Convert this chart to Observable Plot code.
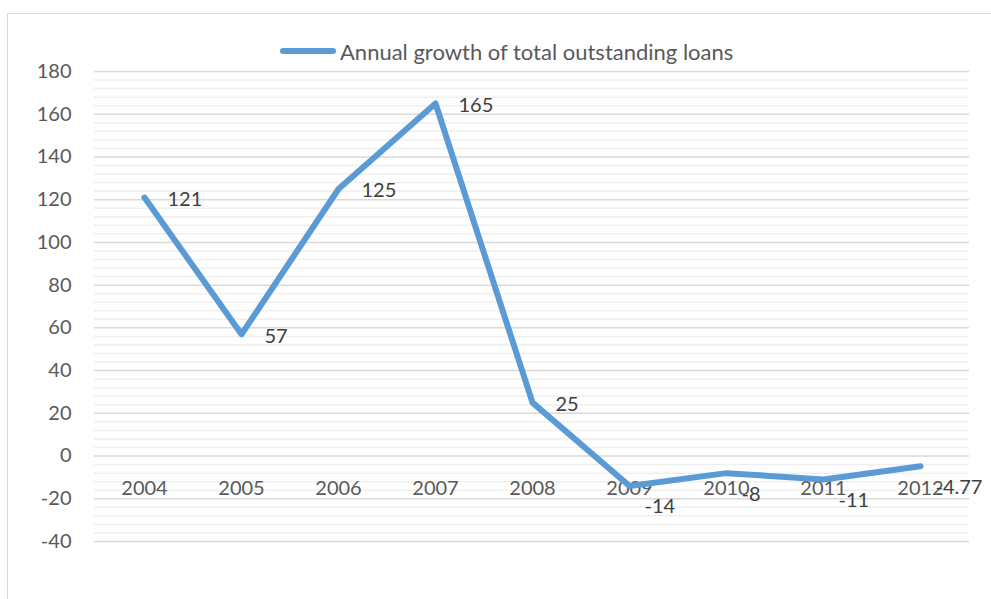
<!DOCTYPE html>
<html>
<head>
<meta charset="utf-8">
<script src="https://cdn.jsdelivr.net/npm/d3@7"></script>
<script src="https://cdn.jsdelivr.net/npm/@observablehq/plot@0.6"></script>
<style>
  html, body { margin: 0; padding: 0; background: #fff; overflow: hidden; width: 991px; height: 599px; }
  #wrap { position: relative; width: 991px; height: 599px; }
  #frame { position: absolute; left: 7px; top: 13px; width: 1000px; height: 700px; border: 1px solid #d9d9d9; box-sizing: border-box; }
  #chart { position: absolute; left: 0; top: 0; }
  #legend { position: absolute; left: 280px; top: 36px; height: 30px; display: flex; align-items: center; font-family: Lato, sans-serif; font-size: 22px; color: #595959; }
  #legend .swatch { width: 56px; height: 6px; border-radius: 3px; background: #5B9BD5; margin-right: 4px; }
</style>
</head>
<body>
<div id="wrap">
  <div id="frame"></div>
  <div id="chart"></div>
  <div id="legend"><span class="swatch"></span><span id="legendText"></span></div>
</div>
<script>
const seriesName = "Annual growth of total outstanding loans";
const years = ["2004", "2005", "2006", "2007", "2008", "2009", "2010", "2011", "2012"];
const values = [121, 57, 125, 165, 25, -14, -8, -11, -4.77];
const valueLabels = ["121", "57", "125", "165", "25", "-14", "-8", "-11", "-4.77"];
const yTicks = [-40, -20, 0, 20, 40, 60, 80, 100, 120, 140, 160, 180];
const minorTicks = d3.range(-40, 181, 4).filter(v => v % 20 !== 0);

document.getElementById("legendText").textContent = seriesName;

const data = years.map((y, i) => ({year: y, value: values[i], label: valueLabels[i]}));
const pos = data.filter(d => d.value >= 0);
const neg = data.filter(d => d.value < 0);

const chart = Plot.plot({
  width: 991,
  height: 599,
  marginLeft: 94,
  marginRight: 22,
  marginTop: 71,
  marginBottom: 58,
  style: {fontFamily: "Lato, sans-serif", fontSize: "20px", background: "transparent", overflow: "visible"},
  x: {type: "point", domain: years, padding: 0.5, axis: null},
  y: {domain: [-40, 180], axis: null},
  marks: [
    Plot.ruleY(minorTicks, {stroke: "#efefef", strokeWidth: 1.5}),
    Plot.ruleY(yTicks, {stroke: "#d9d9d9", strokeWidth: 1.5}),
    Plot.axisY({ticks: yTicks, label: null, tickSize: 0, tickPadding: 23, fill: "#595959", fontSize: 20, tickFormat: d => String(d)}),
    Plot.text(years, {x: d => d, y: () => 0, text: d => d, dy: 33, fill: "#595959", fontSize: 20}),
    Plot.line(data, {x: "year", y: "value", stroke: "#5B9BD5", strokeWidth: 6, strokeLinejoin: "round", strokeLinecap: "round"}),
    Plot.text(pos, {x: "year", y: "value", text: "label", dx: 23, dy: 2, textAnchor: "start", fill: "#404040", fontSize: 20}),
    Plot.text(neg, {x: "year", y: "value", text: "label", dx: 15, dy: 21, textAnchor: "start", fill: "#404040", fontSize: 20})
  ]
});
document.getElementById("chart").appendChild(chart);
</script>
</body>
</html>
